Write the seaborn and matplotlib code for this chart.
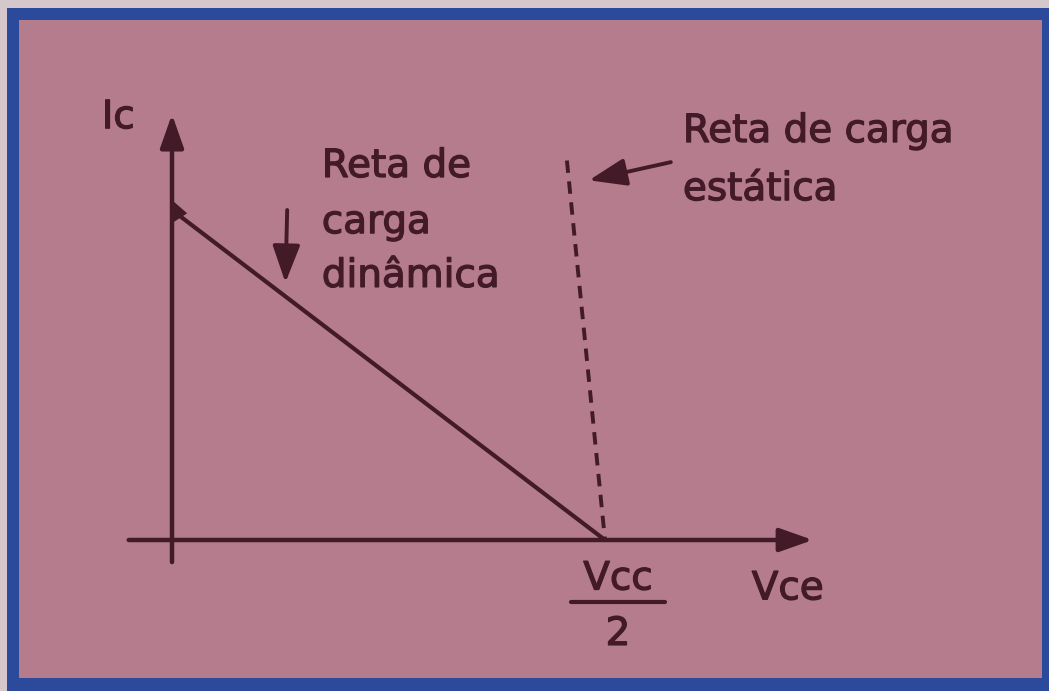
import matplotlib
matplotlib.use("Agg")
import matplotlib.pyplot as plt
import matplotlib.patheffects as pe
import seaborn as sns
import pandas as pd
from matplotlib.patches import Rectangle

sns.set_theme(style="white")
plt.rcParams['font.family'] = ['DejaVu Sans']

# ---- data (diagram units: Vce in units of Vcc/2, Ic in units of Ic intercept) ----
vce_dinamica = [0.0, 1.0]
ic_dinamica = [1.0, 0.0]
vce_estatica = [0.912, 1.0]
ic_estatica = [1.15, 0.0]
labels_dinamica = ["Reta de", "carga", "dinâmica"]
labels_estatica = ["Reta de carga", "estática"]
axis_x_label = "Vce"
axis_y_label = "Ic"
tick_num = "Vcc"
tick_den = "2"

INK = "#431a28"
PINK = "#b47c8c"
BLUE = "#2c4a9c"
OUTER = "#d4c8cc"

fig = plt.figure(figsize=(10.49, 6.91), dpi=100)
fig.patch.set_facecolor(OUTER)
# blue frame and pink panel
fig.patches.append(Rectangle((7/1049, 0), 1.0, 683/691, transform=fig.transFigure,
                             facecolor=BLUE, edgecolor="none", zorder=-2))
fig.patches.append(Rectangle((19/1049, 13/691), 1023/1049, 658/691, transform=fig.transFigure,
                             facecolor=PINK, edgecolor="none", zorder=-1))

ax = fig.add_axes([0, 0, 1, 1])
ax.set_facecolor("none")
ax.set_xlim(-172/433, (1049-172)/433)
ax.set_ylim(-(691-540)/330, 540/330)
ax.axis("off")

df_d = pd.DataFrame({"x": vce_dinamica, "y": ic_dinamica})
df_e = pd.DataFrame({"x": vce_estatica, "y": ic_estatica})
sns.lineplot(data=df_d, x="x", y="y", ax=ax, color=INK, lw=3.0, sort=False)
sns.lineplot(data=df_e, x="x", y="y", ax=ax, color=INK, lw=2.8, sort=False,
             dashes=False, linestyle=(0, (3.2, 2.2)))

# axes with arrowheads
arr = dict(arrowstyle="-|>,head_length=1.7,head_width=0.6", color=INK, lw=3.2,
           shrinkA=0, shrinkB=0)
ax.annotate("", xy=(1.48, 0), xytext=(-0.10, 0), arrowprops=arr)
ax.annotate("", xy=(0, 1.29), xytext=(0, -0.067), arrowprops=arr)
# small marker at intercept
ax.fill([0.0, 0.035, 0.0], [1.03, 0.99, 0.96], color=INK, lw=0)

# pointer arrows
parr = dict(arrowstyle="-|>,head_length=1.9,head_width=0.7", color=INK, lw=2.8,
            shrinkA=0, shrinkB=0)
ax.annotate("", xy=(0.262, 0.78), xytext=(0.266, 1.0), arrowprops=parr)
ax.annotate("", xy=(0.963, 1.09), xytext=(1.152, 1.145), arrowprops=parr)

fs = 28
eff = [pe.withStroke(linewidth=0.9, foreground=INK)]
kw = dict(color=INK, fontsize=fs, va="baseline", path_effects=eff)
ax.text(-0.162, 1.248, axis_y_label, ha="left", **kw)
for y, t in zip([1.100, 0.930, 0.767], labels_dinamica):
    ax.text(0.346, y, t, ha="left", **kw)
for y, t in zip([1.206, 1.030], labels_estatica):
    ax.text(1.180, y, t, ha="left", **kw)
ax.text(1.030, -0.150, tick_num, ha="center", **kw)
ax.plot([0.921, 1.139], [-0.188, -0.188], color=INK, lw=3.0)
ax.text(1.030, -0.318, tick_den, ha="center", **kw)
ax.text(1.339, -0.180, axis_x_label, ha="left", **kw)

fig.savefig("out.png", dpi=100, facecolor=fig.get_facecolor())
